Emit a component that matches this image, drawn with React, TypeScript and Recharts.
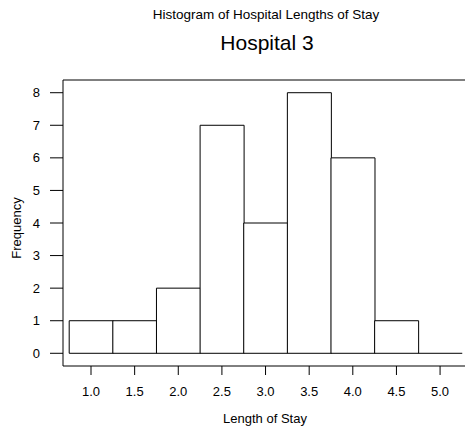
import React from "react";
import { ComposedChart, Bar, XAxis, YAxis, ReferenceLine } from "recharts";

// Histogram bins (centres) and their frequencies
const binCenters: number[] = [1.0, 1.5, 2.0, 2.5, 3.0, 3.5, 4.0, 4.5, 5.0];
const frequencies: number[] = [1, 1, 2, 7, 4, 8, 6, 1, 0];
const xTicks: number[] = [1.0, 1.5, 2.0, 2.5, 3.0, 3.5, 4.0, 4.5, 5.0];
const yTicks: number[] = [0, 1, 2, 3, 4, 5, 6, 7, 8];

const mainTitle = "Histogram of Hospital Lengths of Stay";
const subTitle = "Hospital 3";
const xLabel = "Length of Stay";
const yLabel = "Frequency";

const X_MIN = 0.679;
const X_MAX = 5.32;
const Y_MIN = -0.39;
const Y_MAX = 8.39;

const data = binCenters.map((c, i) => ({ center: c, count: frequencies[i] }));

const FONT = "'Liberation Sans', Arial, Helvetica, sans-serif";

const HistBar = (props: any) => {
  const { x, y, width, height } = props;
  if (x == null || y == null) return null;
  const h = height || 0;
  if (Math.abs(h) < 0.01) {
    return <path d={`M${x},${y} L${x + width},${y}`} stroke="#000" strokeWidth={1} fill="none" />;
  }
  const d = `M${x},${y + h} L${x},${y} L${x + width},${y} L${x + width},${y + h} Z`;
  return <path d={d} fill="#fff" stroke="#000" strokeWidth={1} />;
};

export default function App() {
  return (
    <div
      style={{
        position: "fixed",
        left: 0,
        top: 0,
        width: 465,
        height: 428,
        overflow: "hidden",
        background: "#fff",
        fontFamily: FONT,
      }}
    >
      <ComposedChart
        width={468}
        height={428}
        data={data}
        margin={{ top: 80, right: 0, bottom: 0, left: 0 }}
        barCategoryGap={0}
        barGap={0}
      >
        <XAxis
          dataKey="center"
          type="number"
          domain={[X_MIN, X_MAX]}
          ticks={xTicks}
          allowDataOverflow
          interval={0}
          height={62}
          tickSize={9}
          tickMargin={12}
          tickFormatter={(v: number) => v.toFixed(1)}
          stroke="#000"
          tick={{ fontSize: 13, fill: "#000", fontFamily: FONT }}
        />
        <YAxis
          type="number"
          domain={[Y_MIN, Y_MAX]}
          ticks={yTicks}
          allowDataOverflow
          interval={0}
          width={63}
          tickSize={13}
          tickMargin={10}
          stroke="#000"
          tick={{ fontSize: 13, fill: "#000", fontFamily: FONT }}
        />
        <ReferenceLine y={Y_MAX} stroke="#000" strokeWidth={1} ifOverflow="visible" />
        <ReferenceLine x={X_MAX} stroke="#000" strokeWidth={1} ifOverflow="visible" />
        <Bar dataKey="count" isAnimationActive={false} shape={HistBar} />
      </ComposedChart>
      <svg
        width={465}
        height={428}
        style={{ position: "absolute", left: 0, top: 0, pointerEvents: "none" }}
      >
        <text x={266} y={18.5} textAnchor="middle" fontSize={13.5} fill="#000" fontFamily={FONT}>
          {mainTitle}
        </text>
        <text x={267} y={50} textAnchor="middle" fontSize={21} fill="#000" fontFamily={FONT}>
          {subTitle}
        </text>
        <text x={265} y={423} textAnchor="middle" fontSize={13} fill="#000" fontFamily={FONT}>
          {xLabel}
        </text>
        <text
          transform="translate(21,228) rotate(-90)"
          textAnchor="middle"
          fontSize={13}
          fill="#000"
          fontFamily={FONT}
        >
          {yLabel}
        </text>
      </svg>
    </div>
  );
}
